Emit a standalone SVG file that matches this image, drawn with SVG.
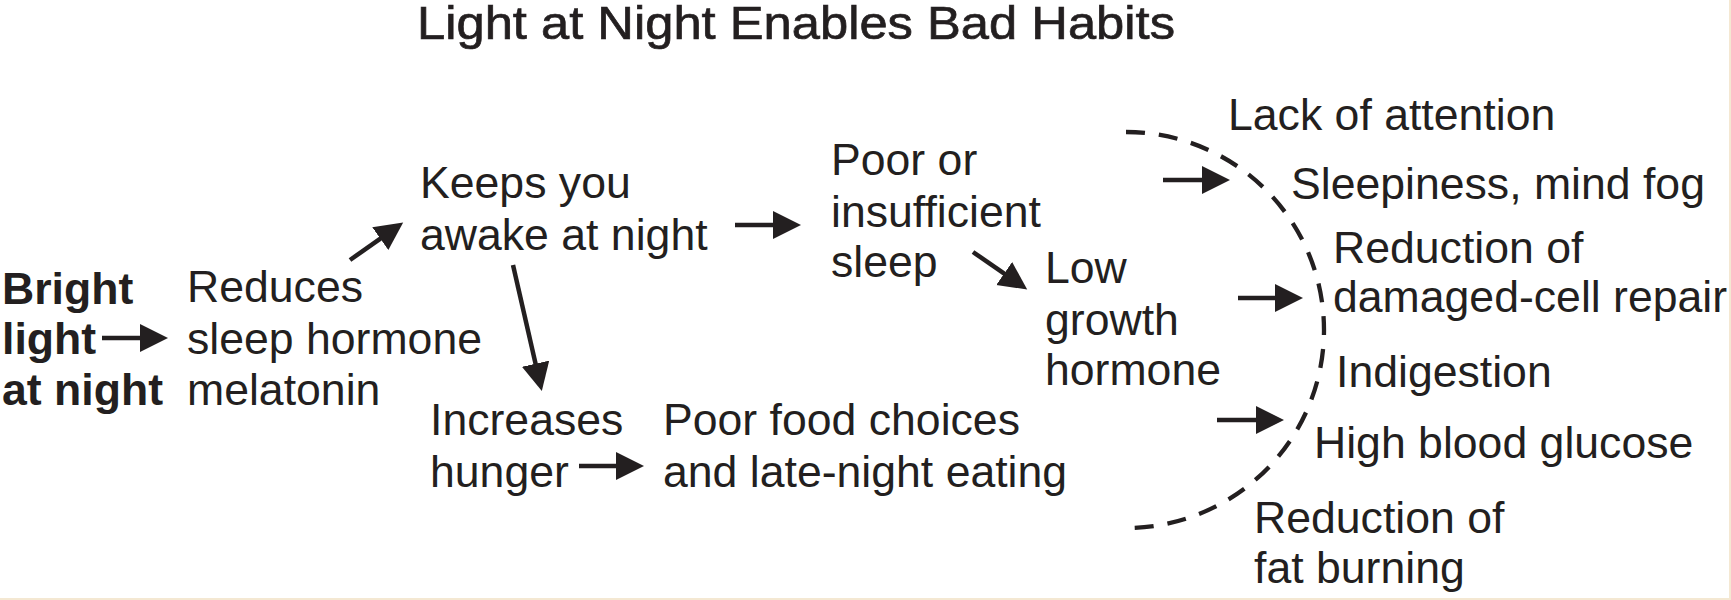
<svg xmlns="http://www.w3.org/2000/svg" width="1731" height="600" viewBox="0 0 1731 600">
  <style>
    text { font-family: "Liberation Sans", Arial, sans-serif; font-size: 44.6px; fill: #231f20; }
    .title { font-size: 47px; stroke: #231f20; stroke-width: 0.7; }
    .bold { font-weight: bold; }
    .arrow { stroke: #231f20; stroke-width: 4.5; fill: none; marker-end: url(#head); }
    .arc { stroke: #231f20; stroke-width: 4.3; fill: none; stroke-dasharray: 19 14; }
  </style>
  <defs>
    <marker id="head" markerUnits="userSpaceOnUse" markerWidth="30" markerHeight="30" refX="1" refY="14" orient="auto" viewBox="0 0 30 30">
      <path d="M0,0 L28,14 L0,28 Z" fill="#231f20"/>
    </marker>
  </defs>
  <rect width="1731" height="600" fill="#ffffff"/>
  <rect x="1729" y="0" width="2" height="600" fill="#f4e8d2"/>
  <rect x="0" y="598" width="1731" height="2" fill="#f4e8d2"/>

  <g id="title"><text class="title" x="417" y="39" textLength="758" lengthAdjust="spacingAndGlyphs">Light at Night Enables Bad Habits</text></g>

  <g id="bright-light">
    <text class="bold" x="2" y="304">Bright</text>
    <text class="bold" x="2" y="354">light</text>
    <text class="bold" x="2" y="405">at night</text>
  </g>
  <g id="reduces">
    <text x="187" y="302">Reduces</text>
    <text x="187" y="354">sleep hormone</text>
    <text x="187" y="405">melatonin</text>
  </g>
  <g id="keeps-awake">
    <text x="420" y="198">Keeps you</text>
    <text x="420" y="250">awake at night</text>
  </g>
  <g id="poor-sleep">
    <text x="831" y="175">Poor or</text>
    <text x="831" y="227">insufficient</text>
    <text x="831" y="277">sleep</text>
  </g>
  <g id="low-growth">
    <text x="1045" y="283">Low</text>
    <text x="1045" y="335">growth</text>
    <text x="1045" y="385">hormone</text>
  </g>
  <g id="increases-hunger">
    <text x="430" y="435">Increases</text>
    <text x="430" y="487">hunger</text>
  </g>
  <g id="poor-food">
    <text x="663" y="435">Poor food choices</text>
    <text x="663" y="487">and late-night eating</text>
  </g>
  <g id="effects">
    <text x="1228" y="130">Lack of attention</text>
    <text x="1291" y="199">Sleepiness, mind fog</text>
    <text x="1333" y="263">Reduction of</text>
    <text x="1333" y="312">damaged-cell repair</text>
    <text x="1336" y="387">Indigestion</text>
    <text x="1314" y="458">High blood glucose</text>
    <text x="1254" y="533">Reduction of</text>
    <text x="1254" y="583">fat burning</text>
  </g>

  <g id="connectors">
    <line class="arrow" x1="102" y1="338" x2="141" y2="338"/>
    <line class="arrow" x1="350" y1="260" x2="381.1" y2="238.1"/>
    <line class="arrow" x1="735" y1="225" x2="774" y2="225"/>
    <line class="arrow" x1="513" y1="265" x2="535.8" y2="364.7"/>
    <line class="arrow" x1="973" y1="252" x2="1005" y2="274.1"/>
    <line class="arrow" x1="579" y1="466" x2="617" y2="466"/>
    <line class="arrow" x1="1163" y1="180" x2="1203" y2="180"/>
    <line class="arrow" x1="1238" y1="298" x2="1276" y2="298"/>
    <line class="arrow" x1="1217" y1="420" x2="1257" y2="420"/>
    <path class="arc" d="M1126,132 A198,198 0 0 1 1126,528"/>
  </g>
</svg>
